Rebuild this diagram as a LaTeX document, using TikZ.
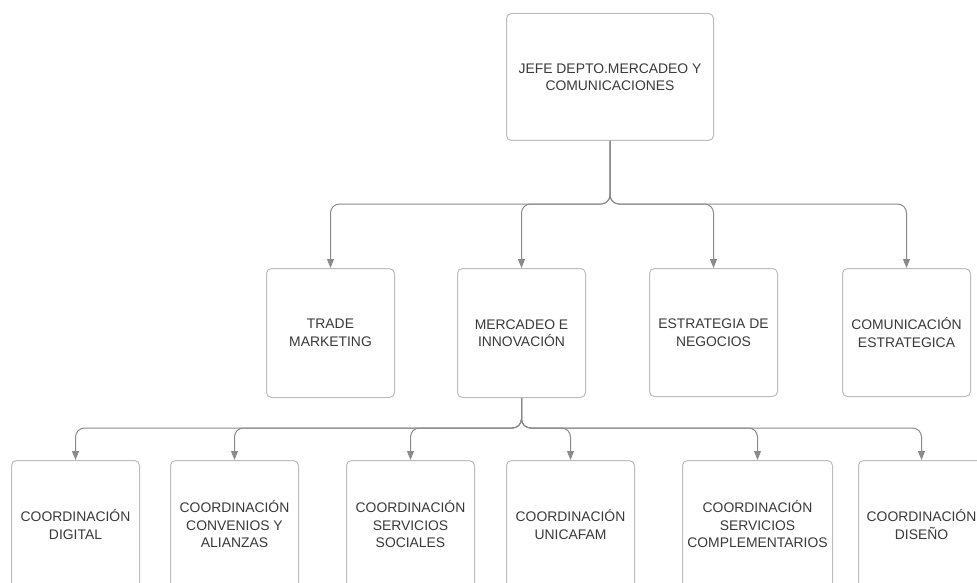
\documentclass[tikz,border=0pt]{standalone}
\usepackage{fontspec}
\setmainfont{Liberation Sans}
\usetikzlibrary{arrows.meta}
\definecolor{boxline}{HTML}{BDBDBD}
\definecolor{conn}{HTML}{8A8A8A}
\definecolor{txt}{HTML}{3A3A3A}
\tikzset{
  orgbox/.style={draw=boxline, line width=1pt, rounded corners=5pt, fill=white,
    align=center, text=txt, font=\fontsize{13.9}{17.5}\selectfont,
    inner sep=0pt, anchor=north west},
  link/.style={draw=conn, line width=1pt, rounded corners=9pt,
    -{Triangle[width=7pt,length=9pt]}}
}
\begin{document}
\begin{tikzpicture}[x=1pt,y=-1pt]
\useasboundingbox (0,0) rectangle (977,583);
\clip (0,0) rectangle (977,583);
% top
\node[orgbox, minimum width=207pt, minimum height=127pt] (jefe) at (506,13) {JEFE DEPTO.MERCADEO Y\\COMUNICACIONES};
% second row
\node[orgbox, minimum width=128pt, minimum height=129pt] (trade) at (266,268) {TRADE\\MARKETING};
\node[orgbox, minimum width=128pt, minimum height=129pt] (merc) at (457,268) {MERCADEO E\\INNOVACIÓN};
\node[orgbox, minimum width=128pt, minimum height=128pt] (estr) at (649,268) {ESTRATEGIA DE\\NEGOCIOS};
\node[orgbox, minimum width=128pt, minimum height=128pt] (comu) at (842,268) {COMUNICACIÓN\\ESTRATEGICA};
% third row
\node[orgbox, minimum width=128pt, minimum height=128pt] (c1) at (11,460) {COORDINACIÓN\\DIGITAL};
\node[orgbox, minimum width=128pt, minimum height=128pt] (c2) at (170,460) {COORDINACIÓN\\CONVENIOS Y\\ALIANZAS};
\node[orgbox, minimum width=128pt, minimum height=128pt] (c3) at (346,460) {COORDINACIÓN\\SERVICIOS\\SOCIALES};
\node[orgbox, minimum width=128pt, minimum height=128pt] (c4) at (506,460) {COORDINACIÓN\\UNICAFAM};
\node[orgbox, minimum width=150pt, minimum height=128pt] (c5) at (682,460) {COORDINACIÓN\\SERVICIOS\\COMPLEMENTARIOS};
\node[orgbox, minimum width=126pt, minimum height=128pt] (c6) at (858,460) {COORDINACIÓN\\DISEÑO};
% connectors
\coordinate (bus1) at (0,204);
\coordinate (bus2) at (0,428);
\foreach \c in {trade,merc,estr,comu}{
  \draw[link] (jefe.south) -- (jefe.south |- bus1) -- (\c.north |- bus1) -- (\c.north);
}
\foreach \c in {c1,c2,c3,c4,c5,c6}{
  \draw[link] (merc.south) -- (merc.south |- bus2) -- (\c.north |- bus2) -- (\c.north);
}
\end{tikzpicture}
\end{document}
